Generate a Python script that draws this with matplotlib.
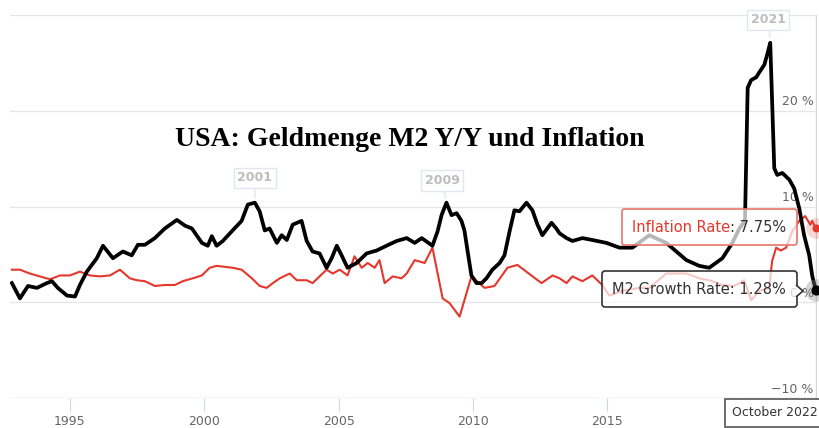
import matplotlib
matplotlib.use('Agg')
import matplotlib.pyplot as plt
from matplotlib.patches import Polygon
from matplotlib.offsetbox import TextArea, HPacker, AnnotationBbox
import matplotlib.transforms as mtransforms

# M2 money supply growth Y/Y (%)
m2_years = [1992.84, 1993.14, 1993.44, 1993.77, 1994.14, 1994.33, 1994.55, 1994.89,
            1995.19, 1995.37, 1995.63, 1996.00, 1996.23, 1996.60, 1996.97, 1997.30,
            1997.53, 1997.79, 1998.16, 1998.53, 1998.98, 1999.28, 1999.54, 1999.91,
            2000.13, 2000.28, 2000.46, 2000.69, 2001.02, 2001.39, 2001.62, 2001.88,
            2002.06, 2002.25, 2002.43, 2002.70, 2002.88, 2003.07, 2003.29, 2003.62,
            2003.81, 2004.03, 2004.29, 2004.55, 2004.74, 2004.93, 2005.11, 2005.33,
            2005.67, 2006.04, 2006.41, 2006.78, 2007.16, 2007.53, 2007.83, 2008.09,
            2008.49, 2008.68, 2008.83, 2009.01, 2009.20, 2009.39, 2009.57, 2009.68,
            2009.80, 2009.94, 2010.13, 2010.32, 2010.50, 2010.72, 2010.99, 2011.17,
            2011.36, 2011.54, 2011.73, 2011.99, 2012.21, 2012.40, 2012.58, 2012.92,
            2013.10, 2013.22, 2013.48, 2013.70, 2014.07, 2014.44, 2014.96, 2015.45,
            2015.93, 2016.56, 2017.19, 2017.94, 2018.42, 2018.79, 2019.28, 2019.65,
            2019.91, 2020.12, 2020.22, 2020.35, 2020.54, 2020.65, 2020.84, 2020.95,
            2021.06, 2021.21, 2021.32, 2021.51, 2021.77, 2021.95, 2022.14, 2022.32,
            2022.51, 2022.62, 2022.75]
m2_values = [2.0, 0.4, 1.7, 1.5, 2.0, 2.2, 1.5, 0.7,
             0.6, 1.8, 3.2, 4.6, 5.9, 4.6, 5.3, 4.9,
             6.0, 6.0, 6.7, 7.7, 8.6, 8.0, 7.7, 6.2,
             5.9, 6.9, 5.9, 6.4, 7.4, 8.5, 10.2, 10.4,
             9.5, 7.5, 7.7, 6.2, 7.0, 6.5, 8.1, 8.5,
             6.4, 5.3, 5.1, 3.6, 4.6, 5.9, 4.9, 3.6,
             4.1, 5.1, 5.4, 5.9, 6.4, 6.7, 6.2, 6.7,
             5.9, 7.4, 9.1, 10.4, 9.1, 9.3, 8.5, 7.5,
             5.3, 2.8, 2.0, 2.0, 2.5, 3.4, 4.1, 4.9,
             7.4, 9.6, 9.5, 10.4, 9.6, 8.1, 7.0, 8.3,
             7.7, 7.2, 6.7, 6.4, 6.7, 6.5, 6.2, 5.7,
             5.7, 7.0, 6.2, 4.4, 3.8, 3.6, 4.6, 6.2,
             7.7, 8.5, 22.4, 23.2, 23.5, 24.0, 24.8, 25.9,
             27.1, 14.0, 13.3, 13.5, 12.8, 11.9, 9.8, 7.0,
             4.9, 2.8, 1.28]

# CPI inflation rate (%)
infl_years = [1992.84, 1993.14, 1993.51, 1993.88, 1994.26, 1994.63, 1995.00, 1995.37,
              1995.74, 1996.12, 1996.49, 1996.86, 1997.23, 1997.49, 1997.79, 1998.16,
              1998.53, 1998.90, 1999.20, 1999.57, 1999.91, 2000.20, 2000.46, 2000.76,
              2001.06, 2001.39, 2001.77, 2002.06, 2002.32, 2002.55, 2002.81, 2003.18,
              2003.44, 2003.81, 2004.03, 2004.29, 2004.55, 2004.78, 2005.04, 2005.33,
              2005.59, 2005.86, 2006.08, 2006.34, 2006.52, 2006.71, 2007.01, 2007.34,
              2007.53, 2007.83, 2008.20, 2008.49, 2008.87, 2009.13, 2009.50, 2009.94,
              2010.43, 2010.80, 2011.28, 2011.65, 2012.17, 2012.55, 2012.96, 2013.22,
              2013.48, 2013.70, 2014.07, 2014.44, 2014.81, 2015.07, 2015.56, 2016.19,
              2016.56, 2017.19, 2017.94, 2018.42, 2018.79, 2019.28, 2019.72, 2020.09,
              2020.35, 2020.65, 2021.02, 2021.13, 2021.28, 2021.45, 2021.65, 2021.88,
              2022.14, 2022.36, 2022.55, 2022.62, 2022.75]
infl_values = [3.4, 3.4, 3.0, 2.7, 2.4, 2.8, 2.8, 3.2,
               2.8, 2.7, 2.8, 3.4, 2.5, 2.3, 2.2, 1.7,
               1.8, 1.8, 2.2, 2.5, 2.8, 3.6, 3.8, 3.7,
               3.6, 3.4, 2.5, 1.7, 1.5, 2.0, 2.5, 3.0,
               2.3, 2.3, 2.0, 2.7, 3.4, 3.0, 3.4, 2.8,
               4.8, 3.6, 4.1, 3.6, 4.4, 2.0, 2.7, 2.5,
               3.0, 4.4, 4.1, 5.7, 0.4, -0.1, -1.5, 2.7,
               1.5, 1.7, 3.6, 3.9, 2.8, 2.0, 2.8, 2.5,
               2.0, 2.7, 2.2, 2.8, 1.8, 0.7, 1.2, 1.5,
               1.5, 3.0, 3.0, 2.5, 2.3, 1.8, 1.7, 2.3,
               0.2, 1.2, 1.5, 4.3, 5.7, 5.4, 5.7, 7.4,
               8.5, 9.0, 8.1, 8.5, 7.75]

year_ticks = [1995, 2000, 2005, 2010, 2015, 2020]
y_grid = [30, 20, 10, 0]
y_labels = {20: '20 %', 10: '10 %', 0: '0 %', -10: '\u221210 %'}

red = '#e5372b'
grey_txt = '#666666'


def fx(px):
    return px / 819


def fy(py):
    return 1 - py / 428


fig = plt.figure(figsize=(8.19, 4.28), dpi=100)
ax = fig.add_axes([fx(10), fy(398), 807 / 819, 383 / 428])
ax.set_xlim(1992.77, 2022.8)
ax.set_ylim(-10, 30)
for s in ax.spines.values():
    s.set_visible(False)
ax.set_yticks([])

for g in y_grid:
    ax.axhline(g, color='#e6e6e6', lw=1, zorder=0)
ax.axhline(-10, color='#ccd6eb', lw=1, zorder=0)
ax.axvline(2022.75, color='#d6d6d6', lw=1, zorder=0)

ax.set_xticks(year_ticks)
ax.set_xticklabels([str(y) for y in year_ticks])
ax.tick_params(axis='x', length=9, color='#ccd6eb', labelcolor=grey_txt,
               labelsize=9, pad=3.5)

# y labels sit above the grid lines, right aligned
trans = mtransforms.blended_transform_factory(ax.transAxes, ax.transData)
for v, lab in y_labels.items():
    ax.text(0.996, v + 0.25, lab, transform=trans, ha='right', va='bottom',
            color=grey_txt, fontsize=9, zorder=1)

ax.plot(infl_years, infl_values, color=red, lw=1.5, zorder=3)
ax.plot(m2_years, m2_values, color='black', lw=2.7, zorder=4)

# peak labels
for lab, xy, xt in [('2001', (2001.88, 10.6), (2001.88, 13.0)),
                    ('2009', (2009.01, 10.6), (2008.85, 12.7)),
                    ('2021', (2021.06, 27.4), (2020.98, 29.5))]:
    ax.annotate(lab, xy=xy, xytext=xt, ha='center', va='center', fontsize=9,
                color='#bdbdbd', fontweight='bold', annotation_clip=False,
                bbox=dict(boxstyle='square,pad=0.3', fc='white', ec='#dfe7f1', lw=1),
                arrowprops=dict(arrowstyle='-', color='#dfe7f1', lw=1,
                                shrinkA=0, shrinkB=2), zorder=2)

# hover markers
ax.scatter([infl_years[-1]], [infl_values[-1]], s=220, color=red, alpha=0.2,
           lw=0, zorder=5, clip_on=False)
ax.scatter([infl_years[-1]], [infl_values[-1]], s=22, color=red, zorder=6, clip_on=False)
ax.scatter([m2_years[-1]], [m2_values[-1]], s=260, color='#888888', alpha=0.35,
           lw=0, zorder=5, clip_on=False)
ax.scatter([m2_years[-1]], [m2_values[-1]], s=40, color='black', zorder=6, clip_on=False)

# tooltips (semi transparent, the lines show through faded)
infl_box = HPacker(children=[
    TextArea('Inflation Rate', textprops=dict(color=red, size=10.5)),
    TextArea(': %.2f%%' % infl_values[-1], textprops=dict(color='#333333', size=10.5))],
    pad=0, sep=0, align='baseline')
ab = AnnotationBbox(infl_box, (2018.79, 7.85), xycoords='data', frameon=True,
                    bboxprops=dict(boxstyle='round,pad=0.75,rounding_size=0.2',
                                   fc=(1, 1, 1, 0.72), ec='#e8766c', lw=1.2),
                    zorder=7, annotation_clip=False)
ax.add_artist(ab)

m2_box = TextArea('M2 Growth Rate: %.2f%%' % m2_values[-1],
                  textprops=dict(color='#333333', size=10.5))
ab2 = AnnotationBbox(m2_box, (2018.42, 1.36), xycoords='data', frameon=True,
                     bboxprops=dict(boxstyle='round,pad=0.75,rounding_size=0.2',
                                    fc=(1, 1, 1, 0.72), ec='#333333', lw=1.2),
                     zorder=7, annotation_clip=False)
ax.add_artist(ab2)
arrow = Polygon([(fx(796), fy(285)), (fx(803), fy(291)), (fx(796), fy(297))],
                closed=False, transform=fig.transFigure, fc='white', ec='#333333',
                lw=1.2, zorder=8)
fig.add_artist(arrow)

fig.text(fx(775), fy(413), 'October 2022', ha='center', va='center', fontsize=9,
         color='#333333', zorder=9,
         bbox=dict(boxstyle='square,pad=0.6', fc='white', ec='#555555', lw=1.2))

fig.text(0.5, fy(140), 'USA: Geldmenge M2 Y/Y und Inflation', ha='center', va='center',
         fontsize=20, fontweight='bold', family='Liberation Serif', color='black')

fig.savefig('out.png', dpi=100)
print('Saved: out.png')
